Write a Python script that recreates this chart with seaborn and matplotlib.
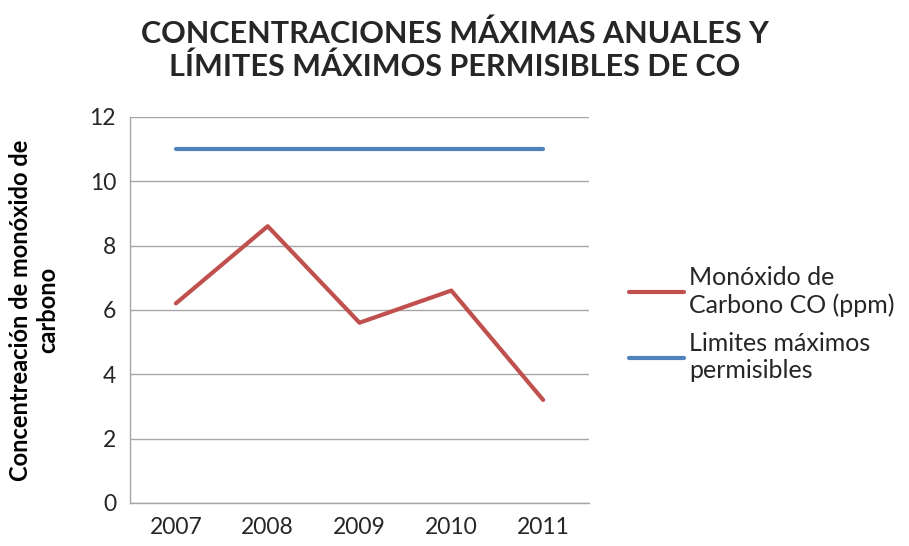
import pandas as pd
import seaborn as sns
import matplotlib.pyplot as plt

# datos
anios = ["2007", "2008", "2009", "2010", "2011"]
co_ppm = [6.2, 8.6, 5.6, 6.6, 3.2]
limite = [11, 11, 11, 11, 11]

serie_co = "Monóxido de\nCarbono CO (ppm)"
serie_lim = "Limites máximos\npermisibles"

df = pd.DataFrame({
    "anio": anios * 2,
    "valor": co_ppm + limite,
    "serie": [serie_co] * len(anios) + [serie_lim] * len(anios),
})

sns.set_theme(style="white")
plt.rcParams["font.family"] = ["Lato", "DejaVu Sans"]

fig = plt.figure(figsize=(9.09, 5.46), dpi=100)
ax = fig.add_axes([0.143, 0.079, 0.505, 0.707])

sns.lineplot(
    data=df, x="anio", y="valor", hue="serie", sort=False,
    palette={serie_co: "#C0504D", serie_lim: "#4F81BD"},
    linewidth=3, ax=ax,
)

ax.set_xlim(-0.5, 4.5)
ax.set_ylim(0, 12)
ax.set_yticks(range(0, 13, 2))
ax.yaxis.grid(True, color="#A6A6A6", linewidth=1)
ax.set_axisbelow(True)
for s in ["top", "right"]:
    ax.spines[s].set_visible(False)
for s in ["left", "bottom"]:
    ax.spines[s].set_color("#A6A6A6")
    ax.spines[s].set_linewidth(1)
ax.tick_params(axis="both", labelsize=16.5, colors="#262626", length=0, pad=10)
ax.set_xlabel("")
ax.set_ylabel("Concentreación de monóxido de\ncarbono", fontsize=17,
              fontweight="bold", color="black", labelpad=22)

fig.suptitle("CONCENTRACIONES MÁXIMAS ANUALES Y\nLÍMITES MÁXIMOS PERMISIBLES DE CO",
             x=0.5, y=0.965, fontsize=22, fontweight="bold", linespacing=1.2)

handles, labels = ax.get_legend_handles_labels()
ax.legend(handles, labels, loc="upper left", bbox_to_anchor=(0.678, 0.535),
          bbox_transform=fig.transFigure, frameon=False, fontsize=18, borderpad=0,
          handlelength=2.2, handletextpad=0.2, labelspacing=0.6, labelcolor="#262626")

fig.savefig("out.png", dpi=100)
